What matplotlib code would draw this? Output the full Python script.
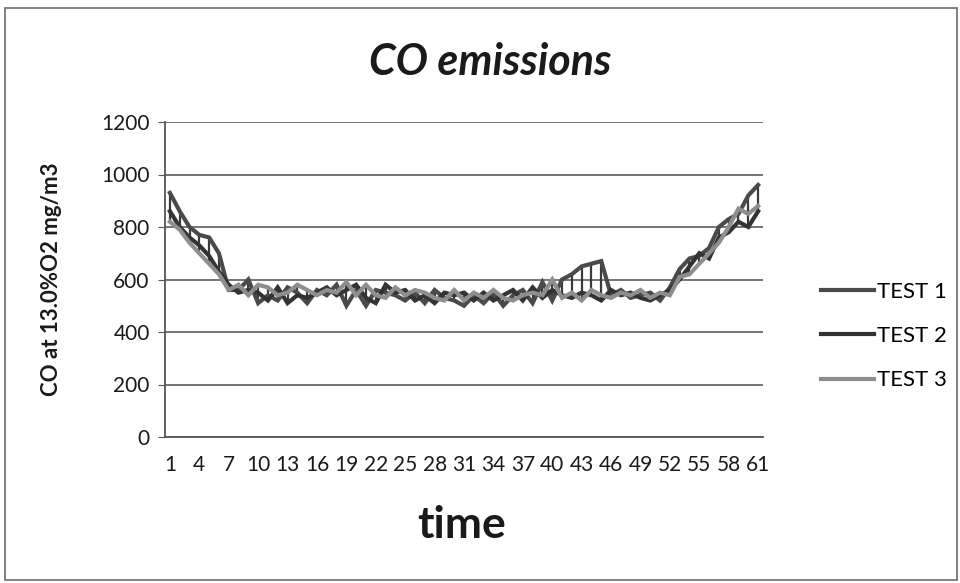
import numpy as np
import matplotlib
matplotlib.use("Agg")
import matplotlib.pyplot as plt
from matplotlib.patches import Rectangle

plt.rcParams['font.family'] = ['Lato', 'DejaVu Sans']

# time steps 1..61
time_steps = list(range(1, 62))

test1 = [930, 860, 800, 770, 760, 700, 560, 560, 600, 510,
         540, 520, 570, 550, 510, 560, 540, 580, 500, 560,
         500, 560, 550, 540, 520, 550, 510, 560, 530, 520,
         500, 540, 510, 550, 500, 540, 560, 510, 590, 520,
         600, 620, 650, 660, 670, 540, 560, 530, 540, 550,
         520, 570, 640, 680, 690, 720, 800, 830, 850, 920, 960]
test2 = [860, 800, 760, 730, 690, 630, 580, 550, 560, 550,
         520, 570, 510, 540, 530, 550, 570, 540, 560, 580,
         530, 510, 580, 550, 560, 520, 540, 510, 550, 540,
         550, 520, 550, 520, 540, 560, 520, 570, 530, 560,
         540, 530, 550, 540, 520, 560, 540, 550, 530, 520,
         540, 560, 600, 650, 700, 680, 760, 780, 820, 800, 860]
test3 = [820, 790, 740, 700, 660, 620, 560, 580, 540, 580,
         570, 540, 550, 580, 560, 540, 560, 550, 590, 540,
         580, 540, 530, 570, 540, 560, 550, 530, 520, 560,
         520, 550, 530, 560, 530, 520, 540, 550, 540, 600,
         530, 550, 520, 560, 540, 530, 550, 540, 560, 530,
         550, 540, 610, 620, 660, 700, 740, 800, 870, 850, 880]

series_names = ["TEST 1", "TEST 2", "TEST 3"]
series_colors = ["#4a4a4a", "#333333", "#8e8e8e"]
y_ticks = [0, 200, 400, 600, 800, 1000, 1200]

fig = plt.figure(figsize=(9.6, 5.83), dpi=100)
ax = fig.add_axes([165 / 960, 1 - 437 / 583, 598 / 960, 315 / 583])

x = np.array(time_steps)
data = np.array([test1, test2, test3])

# high-low lines between series
ax.vlines(x, data.min(axis=0), data.max(axis=0), color="#3a3a3a", lw=1.6, zorder=2)

handles = []
for vals, name, col in zip(data, series_names, series_colors):
    h, = ax.plot(x, vals, color=col, lw=3.0, label=name, zorder=3,
                 solid_joinstyle="miter")
    handles.append(h)

ax.set_xlim(0.5, 61.5)
ax.set_ylim(0, 1200)
ax.set_yticks(y_ticks)
ax.set_xticks(time_steps[::3])
ax.set_xticklabels([str(t) for t in time_steps[::3]])
ax.grid(axis="y", color="#6a6a6a", lw=1.3)
ax.set_axisbelow(True)
for s in ["top", "right"]:
    ax.spines[s].set_visible(False)
ax.spines["left"].set_color("#555555")
ax.spines["bottom"].set_color("#555555")
ax.spines["left"].set_linewidth(1.3)
ax.spines["bottom"].set_linewidth(1.3)
ax.tick_params(axis="y", labelsize=15, length=5, color="#555555", pad=6, labelcolor="#1a1a1a")
ax.tick_params(axis="x", labelsize=15, length=0, pad=13, labelcolor="#1a1a1a")

ax.set_ylabel("CO at 13.0%O2 mg/m3", fontsize=16, fontweight="bold", color="#1a1a1a")
ax.yaxis.set_label_coords(-0.172, 0.5)

fig.text(490 / 960, 1 - 62 / 583, "CO emissions", fontsize=31, fontweight="bold",
         fontstyle="italic", ha="center", va="center", color="#1a1a1a")
fig.text(462 / 960, 1 - 525 / 583, "time", fontsize=32, fontweight="bold",
         ha="center", va="center", color="#1a1a1a")

ax.legend(handles=handles, loc="center left", bbox_to_anchor=(810 / 960, 1 - 336 / 583),
          bbox_transform=fig.transFigure, frameon=False, fontsize=16,
          handlelength=2.4, handletextpad=0.1, labelspacing=1.1, borderpad=0)

# outer chart border
fig.patches.append(Rectangle((5 / 960, 3 / 583), 952 / 960, 572 / 583,
                             transform=fig.transFigure, fill=False,
                             edgecolor="#777777", lw=1.3))

fig.savefig("out.png", dpi=100)
